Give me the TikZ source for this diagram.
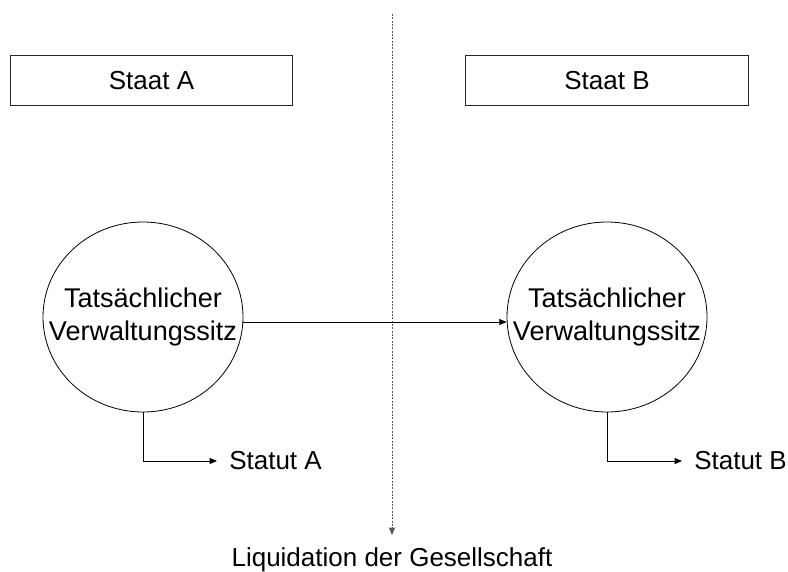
\documentclass[tikz,border=0pt]{standalone}
\usepackage{fontspec}
\setmainfont{Liberation Sans}
\usetikzlibrary{arrows.meta,shapes.geometric}
\tikzset{
	staatbox/.style={draw=black!85, line width=0.75pt, minimum width=212pt, minimum height=37pt, inner sep=0pt},
	sitz/.style={draw, ellipse, line width=0.6pt, minimum width=150pt, minimum height=142.5pt, inner sep=0pt, align=center, font=\fontsize{20.3}{24.75}\selectfont},
	statut/.style={anchor=west, inner xsep=9pt, inner ysep=0pt},
	pfeil/.style={line width=0.6pt, -{Triangle[length=5.5pt,width=4.5pt]}}
}
\newcommand{\sitztext}{\makebox[0pt]{Tats\"achlicher}\\\makebox[0pt]{Verwaltungssitz}}

\begin{document}
\begin{tikzpicture}[x=0.75pt, y=-0.75pt, font=\fontsize{19.5}{24.75}\selectfont]
			%%%%% START %%%%%
			\useasboundingbox (0, 0) rectangle (788, 571);
			
			\node[staatbox] (staatA) at (151.5, 80.5) {Staat A};
			\node[staatbox] (staatB) at (607, 80.5) {Staat B};
			
			\coordinate (grenzeOben) at (392, 14);
			\coordinate (grenzeUnten) at (392, 535);
			\draw[pfeil, black!65, dash pattern=on 1.5pt off 1pt] (grenzeOben) -- (grenzeUnten);
			\node[anchor=base] (liquidation) at (392, 566) {Liquidation der Gesellschaft};
			
			\node[sitz] (sitzA) at (143, 317) {\sitztext};
			\node[sitz] (sitzB) at (607, 317) {\sitztext};
			\draw[pfeil] ([yshift=-3.75pt]sitzA.east) -- ([yshift=-3.75pt]sitzB.west);
			
			\node[statut] (statutA) at (217, 461) {Statut A};
			\node[statut] (statutB) at (682, 461) {Statut B};
			\draw[pfeil] (sitzA.south) |- (statutA.west);
			\draw[pfeil] (sitzB.south) |- (statutB.west);
			
			%%%%% END %%%%%
\end{tikzpicture}
\end{document}
